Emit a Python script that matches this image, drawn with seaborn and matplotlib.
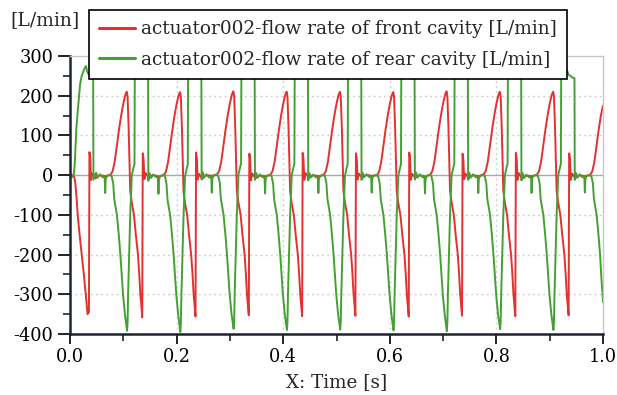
import numpy as np
import pandas as pd
import matplotlib
matplotlib.use("Agg")
import matplotlib.pyplot as plt
from matplotlib.lines import Line2D
from matplotlib.ticker import MultipleLocator, FormatStrFormatter
import seaborn as sns

# ---------------- data (time in ms, flow in L/min) ----------------
front_t_ms = [
    0, 3, 6, 8, 10, 12.5, 14.5, 18, 22, 26, 29.5, 33, 35.5,
    36, 36.5, 38, 39.5, 42, 48, 56, 66, 76, 80, 84, 88, 92, 96, 100, 104, 106.5, 108, 110, 112, 113, 116, 120, 123.5, 127.5, 130, 132, 134, 135.5,
    136, 136.5, 138, 139.5, 142, 148, 156, 166, 176, 180, 184, 188, 192, 196, 200, 204, 206.5, 208, 210, 212, 213, 216, 220, 223.5, 227.5, 230, 232, 234, 235.5,
    236, 236.5, 238, 239.5, 242, 248, 256, 266, 276, 280, 284, 288, 292, 296, 300, 304, 306.5, 308, 310, 312, 313, 316, 320, 323.5, 327.5, 330, 332, 334, 335.5,
    336, 336.5, 338, 339.5, 342, 348, 356, 366, 376, 380, 384, 388, 392, 396, 400, 404, 406.5, 408, 410, 412, 413, 416, 420, 423.5, 427.5, 430, 432, 434, 435.5,
    436, 436.5, 438, 439.5, 442, 448, 456, 466, 476, 480, 484, 488, 492, 496, 500, 504, 506.5, 508, 510, 512, 513, 516, 520, 523.5, 527.5, 530, 532, 534, 535.5,
    536, 536.5, 538, 539.5, 542, 548, 556, 566, 576, 580, 584, 588, 592, 596, 600, 604, 606.5, 608, 610, 612, 613, 616, 620, 623.5, 627.5, 630, 632, 634, 635.5,
    636, 636.5, 638, 639.5, 642, 648, 656, 666, 676, 680, 684, 688, 692, 696, 700, 704, 706.5, 708, 710, 712, 713, 716, 720, 723.5, 727.5, 730, 732, 734, 735.5,
    736, 736.5, 738, 739.5, 742, 748, 756, 766, 776, 780, 784, 788, 792, 796, 800, 804, 806.5, 808, 810, 812, 813, 816, 820, 823.5, 827.5, 830, 832, 834, 835.5,
    836, 836.5, 838, 839.5, 842, 848, 856, 866, 876, 880, 884, 888, 892, 896, 900, 904, 906.5, 908, 910, 912, 913, 916, 920, 923.5, 927.5, 930, 932, 934, 935.5,
    936, 936.5, 938, 939.5, 942, 948, 956, 966, 976, 980, 984, 988, 992, 996, 1000,
]
front_flow = [
    0, 1, -2, -4, -20, -60, -100, -150, -200, -250, -300, -350, -345,
    -130, 58, 44, -12, 4, -8, 0, -3, 1, 10, 35, 75, 115, 150, 180, 203, 210, 198, 120, 20, -40, -70, -100, -150, -200, -250, -300, -330, -358,
    -128, 55, 40, -10, 5, -7, 1, -4, 0, 9, 33, 73, 113, 149, 179, 202, 209, 197, 118, 18, -42, -72, -102, -152, -203, -252, -302, -332, -356,
    -132, 57, 43, -11, 3, -9, 0, -2, 2, 11, 36, 76, 116, 151, 181, 204, 211, 199, 121, 21, -39, -69, -99, -149, -199, -249, -299, -329, -353,
    -130, 54, 41, -13, 4, -8, -1, -3, 1, 10, 34, 74, 114, 150, 180, 203, 210, 198, 119, 19, -41, -71, -101, -151, -201, -251, -301, -331, -355,
    -129, 56, 42, -12, 5, -6, 0, -3, 1, 10, 35, 75, 115, 150, 180, 203, 210, 198, 120, 20, -40, -70, -100, -150, -200, -250, -300, -330, -354,
    -131, 55, 43, -11, 4, -8, 1, -2, 0, 9, 34, 74, 114, 149, 179, 202, 209, 197, 119, 19, -41, -71, -101, -151, -201, -251, -301, -331, -356,
    -130, 57, 42, -12, 3, -7, 0, -4, 1, 11, 36, 76, 116, 151, 181, 204, 211, 199, 121, 21, -39, -69, -99, -149, -199, -249, -299, -329, -354,
    -128, 54, 40, -10, 4, -8, 0, -3, 2, 10, 35, 75, 115, 150, 180, 203, 210, 198, 120, 20, -40, -70, -100, -150, -200, -250, -300, -330, -355,
    -132, 56, 43, -12, 5, -9, -1, -3, 1, 10, 35, 75, 115, 150, 180, 203, 210, 198, 120, 20, -40, -70, -100, -150, -200, -250, -300, -330, -353,
    -130, 55, 42, -12, 4, -8, 0, -3, 1, 10, 35, 75, 115, 150, 175,
]

rear_t_ms = [
    0, 3, 5, 7, 9, 12, 15, 17, 19, 22, 26, 30, 32, 34,
    36, 39, 42, 43.5, 44, 49, 52, 56, 61, 65, 66, 67, 69, 74, 78, 81, 83, 88, 91.5, 94.5, 97, 99.5, 103, 107, 108, 109, 111, 113, 116, 119, 121, 121.5, 124, 126, 130, 133,
    136, 139, 142, 146.5, 147, 149, 152, 156, 161, 165, 166, 167, 169, 174, 178, 181, 183, 188, 191.5, 194.5, 197, 199.5, 203, 207, 208, 209, 211, 213, 216, 219, 221, 221.5, 224, 226, 230, 233,
    236, 239, 242, 246.5, 247, 249, 252, 256, 261, 265, 266, 267, 269, 274, 278, 281, 283, 288, 291.5, 294.5, 297, 299.5, 303, 307, 308, 309, 311, 313, 316, 319, 321, 321.5, 324, 326, 330, 333,
    336, 339, 342, 346.5, 347, 349, 352, 356, 361, 365, 366, 367, 369, 374, 378, 381, 383, 388, 391.5, 394.5, 397, 399.5, 403, 407, 408, 409, 411, 413, 416, 419, 421, 421.5, 424, 426, 430, 433,
    436, 439, 442, 446.5, 447, 449, 452, 456, 461, 465, 466, 467, 469, 474, 478, 481, 483, 488, 491.5, 494.5, 497, 499.5, 503, 507, 508, 509, 511, 513, 516, 519, 521, 521.5, 524, 526, 530, 533,
    536, 539, 542, 546.5, 547, 549, 552, 556, 561, 565, 566, 567, 569, 574, 578, 581, 583, 588, 591.5, 594.5, 597, 599.5, 603, 607, 608, 609, 611, 613, 616, 619, 621, 621.5, 624, 626, 630, 633,
    636, 639, 642, 646.5, 647, 649, 652, 656, 661, 665, 666, 667, 669, 674, 678, 681, 683, 688, 691.5, 694.5, 697, 699.5, 703, 707, 708, 709, 711, 713, 716, 719, 721, 721.5, 724, 726, 730, 733,
    736, 739, 742, 746.5, 747, 749, 752, 756, 761, 765, 766, 767, 769, 774, 778, 781, 783, 788, 791.5, 794.5, 797, 799.5, 803, 807, 808, 809, 811, 813, 816, 819, 821, 821.5, 824, 826, 830, 833,
    836, 839, 842, 846.5, 847, 849, 852, 856, 861, 865, 866, 867, 869, 874, 878, 881, 883, 888, 891.5, 894.5, 897, 899.5, 903, 907, 908, 909, 911, 913, 916, 919, 921, 921.5, 924, 926, 930, 933,
    936, 939, 942, 946.5, 947, 949, 952, 956, 961, 965, 966, 967, 969, 974, 978, 981, 983, 988, 991.5, 994.5, 997, 999.5, 1000,
]
rear_flow = [
    0, -2, -5, 0, 30, 120, 170, 200, 230, 250, 265, 275, 262, 255,
    255, 248, 243, 240, -12, 6, -6, 2, -5, -6, -45, -10, -2, 0, -2, -20, -60, -100, -150, -200, -250, -300, -350, -392, -372, -300, -200, -100, 0, 18, 28, 240, 262, 272, 268, 258,
    252, 250, 245, 243, -14, 5, -7, 1, -4, -7, -47, -11, -3, 0, -1, -22, -62, -102, -152, -202, -252, -302, -352, -395, -374, -302, -202, -102, -2, 17, 27, 238, 260, 271, 267, 257,
    251, 249, 244, 242, -11, 7, -5, 2, -6, -5, -44, -9, -2, 1, -2, -19, -59, -99, -149, -199, -249, -299, -349, -387, -368, -298, -198, -98, 1, 19, 29, 241, 263, 273, 269, 259,
    253, 250, 245, 243, -12, 6, -6, 2, -5, -6, -46, -10, -2, 0, -2, -21, -61, -101, -151, -201, -251, -301, -351, -390, -370, -300, -200, -100, 0, 18, 28, 240, 262, 272, 268, 258,
    252, 249, 245, 242, -13, 5, -6, 1, -5, -7, -45, -10, -3, 0, -1, -20, -60, -100, -150, -200, -250, -300, -350, -389, -369, -299, -199, -99, 0, 18, 28, 240, 262, 272, 268, 258,
    252, 250, 246, 243, -12, 6, -5, 2, -4, -6, -44, -9, -2, 0, -2, -20, -60, -100, -150, -200, -250, -300, -350, -391, -371, -301, -201, -101, -1, 17, 27, 239, 261, 271, 267, 257,
    251, 249, 244, 242, -11, 7, -6, 2, -5, -5, -46, -11, -2, 1, -2, -21, -61, -101, -151, -201, -251, -301, -351, -393, -372, -300, -200, -100, 0, 18, 28, 240, 262, 272, 268, 258,
    252, 250, 245, 243, -12, 6, -6, 2, -5, -6, -45, -10, -2, 0, -2, -20, -60, -100, -150, -200, -250, -300, -350, -388, -369, -299, -199, -99, 0, 19, 29, 241, 263, 273, 269, 259,
    253, 250, 245, 243, -13, 5, -7, 1, -5, -6, -45, -10, -2, 0, -2, -20, -60, -100, -150, -200, -250, -300, -350, -390, -370, -300, -200, -100, 0, 18, 28, 240, 262, 272, 270, 262,
    252, 250, 246, 244, -12, 6, -6, 2, -5, -6, -44, -10, -2, 0, -2, -20, -60, -100, -150, -200, -260, -305, -320,
]

label_front = "actuator002-flow rate of front cavity [L/min]"
label_rear = "actuator002-flow rate of rear cavity [L/min]"
x_ticks = [0.0, 0.2, 0.4, 0.6, 0.8, 1.0]
y_ticks = [-400, -300, -200, -100, 0, 100, 200, 300]

RED = "#e2312f"
GREEN = "#44a034"
DARK = "#1c2430"
LIGHT = "#c8c8c8"
FS_TICK = 12.8
FS_TEXT = 13.5
FS_LEG = 13.3

# ---------------- figure ----------------
sns.set_theme(style="white")
plt.rcParams['font.family'] = ['DejaVu Serif', 'Liberation Serif']
plt.rcParams['axes.unicode_minus'] = False

W, H = 617, 395
fig = plt.figure(figsize=(W / 100, H / 100), dpi=100)
fig.patch.set_facecolor("white")
ax = fig.add_axes([70 / W, 1 - 334 / H, 533 / W, 278 / H])

df = pd.concat([
    pd.DataFrame({"t": np.asarray(front_t_ms) / 1000.0, "flow": front_flow, "series": label_front}),
    pd.DataFrame({"t": np.asarray(rear_t_ms) / 1000.0, "flow": rear_flow, "series": label_rear}),
], ignore_index=True)

# grid + zero line
ax.set_axisbelow(True)
for yv in y_ticks:
    if yv == 0:
        ax.axhline(0, color="#a9a9a9", lw=1.0, zorder=0.5)
    elif yv not in (-400, 300):
        ax.axhline(yv, color=LIGHT, lw=1.0, ls=(0, (1.2, 2.5)), zorder=0.5)
for xv in x_ticks[1:-1]:
    ax.axvline(xv, color=LIGHT, lw=1.0, ls=(0, (1.2, 2.5)), zorder=0.5)

sns.lineplot(data=df, x="t", y="flow", hue="series",
             hue_order=[label_front, label_rear], palette=[RED, GREEN],
             estimator=None, sort=False, lw=1.4, ax=ax, legend=False)

ax.set_xlim(0, 1.0)
ax.set_ylim(-400, 300)
ax.set_xlabel("")
ax.set_ylabel("")
ax.xaxis.set_major_locator(MultipleLocator(0.2))
ax.xaxis.set_minor_locator(MultipleLocator(0.1))
ax.xaxis.set_major_formatter(FormatStrFormatter('%.1f'))
ax.yaxis.set_major_locator(MultipleLocator(100))
ax.yaxis.set_minor_locator(MultipleLocator(50))

for s in ("left", "bottom"):
    ax.spines[s].set_color(DARK)
    ax.spines[s].set_linewidth(1.8)
for s in ("top", "right"):
    ax.spines[s].set_color(LIGHT)
    ax.spines[s].set_linewidth(1.0)

ax.tick_params(axis="y", which="major", direction="out", length=9, width=1.4,
               color=DARK, labelsize=FS_TICK, pad=3, labelcolor="black", left=True)
ax.tick_params(axis="y", which="minor", direction="out", length=5, width=1.2,
               color=DARK, left=True)
ax.tick_params(axis="x", which="major", direction="out", length=7, width=1.4,
               color=DARK, labelsize=FS_TICK, pad=3, labelcolor="black", bottom=True)
ax.tick_params(axis="x", which="minor", direction="out", length=5, width=1.2,
               color=DARK, bottom=True)

fig.text(10 / W, 1 - 20 / H, "[L/min]", ha="left", va="center", fontsize=FS_TEXT)
fig.text(337 / W, 1 - 382 / H, "X: Time [s]", ha="center", va="center", fontsize=13.2)

handles = [Line2D([0], [0], color=RED, lw=2.2), Line2D([0], [0], color=GREEN, lw=2.2)]
leg = fig.legend(handles, [label_front, label_rear], loc="upper left",
                 bbox_to_anchor=(89 / W, 1 - 10 / H), frameon=True, fancybox=False,
                 framealpha=1.0, edgecolor="black", fontsize=FS_LEG, handlelength=1.95,
                 handletextpad=0.3, labelspacing=0.68, borderpad=0.55, borderaxespad=0)
leg.get_frame().set_linewidth(1.2)
leg.set_zorder(10)

fig.savefig("out.png", dpi=100, facecolor="white")
